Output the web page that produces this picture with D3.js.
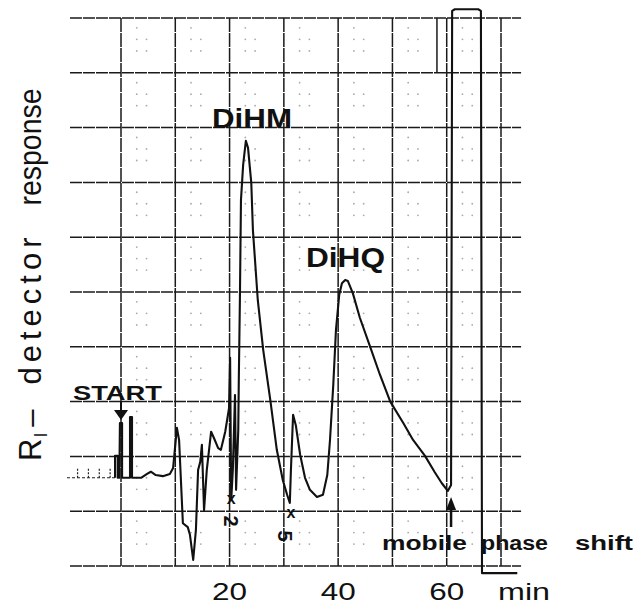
<!DOCTYPE html>
<html>
<head>
<meta charset="utf-8">
<script src="https://cdn.jsdelivr.net/npm/d3@7"></script>
<style>
body{margin:0;background:#fff;}
svg text{font-family:"Liberation Sans",Arial,Helvetica,sans-serif;fill:#111;}
</style>
</head>
<body>
<svg width="635" height="606"></svg>
<script>
(()=>{

//chart grid: minutes and detector divisions
const gridTimes = [0,10,20,30,40,50,60,70];
const gridLevels = [0,1,2,3,4,5,6,7,8,9,10];
const tickValues = [20,40,60];
const tickLabels = ["20","40","60"];
const unitLabel = "min";

//recorder trace: time (min) and response (divisions)
const traceTime = [-1.1,-1.1,-0.6,-0.6,-0.3,-0.2,0.2,0.2,1.66,1.66,2.03,2.03,3.7,4.8,5.5,6.4,7.7,9.0,9.6,10.3,10.7,11.4,12.3,12.7,13.3,13.8,14.2,14.6,14.9,15.3,15.8,16.6,17.1,17.9,18.4,19.2,19.9,20.1,20.3,20.6,21.0,21.2,21.6,21.7,21.9,22.1,22.5,23.0,23.4,24.0,24.3,25.2,26.2,27.5,28.7,29.8,30.6,31.1,31.3,31.7,32.2,33.0,33.9,34.8,36.1,37.2,38.0,38.5,39.1,39.6,40.2,40.7,41.3,41.8,42.7,44.0,45.9,47.7,49.6,52.0,53.8,56.0,57.8,59.1,60.2,60.8,61.0,61.5,65.8,66.3,66.5,73.0];
const traceResp = [1.61,2.01,2.01,1.61,1.61,2.61,2.61,1.61,1.61,2.72,2.72,1.61,1.61,1.68,1.72,1.66,1.64,1.68,1.79,2.52,2.30,0.78,0.71,0.57,0.11,0.66,1.75,1.90,2.21,1.02,1.75,2.45,2.34,2.15,2.12,2.45,2.88,3.80,1.20,1.75,3.12,1.39,2.48,3.39,4.85,6.68,7.32,7.76,7.63,6.99,6.13,4.85,3.94,3.03,2.12,1.57,1.30,1.15,1.75,2.76,2.57,2.03,1.61,1.39,1.26,1.30,1.66,2.30,3.30,4.31,4.95,5.16,5.22,5.20,4.98,4.53,4.00,3.49,3.00,2.61,2.30,2.01,1.71,1.51,1.37,1.48,10.13,10.16,10.16,10.13,-0.13,-0.13];

//annotations
const peakNames = ["DiHM","DiHQ"];
const gainNotes = ["2","5"];

let svg = d3.select("svg");

let x = d3.scaleLinear().domain([0,70]).range([121,501]);
let y = d3.scaleLinear().domain([0,10]).range([566,18]);
let xLeft = -9.4, xRight = 73.7;

//wide lettering: text squeezed/stretched into a measured length
function label(txt, px, py, size, len, bold, anchor){
	return svg.append("text")
		.attr("x", px).attr("y", py)
		.attr("font-size", size)
		.attr("font-weight", bold ? "bold" : "normal")
		.attr("text-anchor", anchor || "start")
		.attr("textLength", len)
		.attr("lengthAdjust", "spacingAndGlyphs")
		.text(txt);
}

//faint printed dots inside cells
let dots = [];
const dotPattern = [[0.29,0.18],[0.29,0.39],[0.47,0.39],[0.29,0.6],[0.47,0.6]];
gridTimes.slice(0,-1).forEach(t=>{
	gridLevels.slice(1).forEach(v=>{
		dotPattern.forEach(p=>dots.push({t:t+p[0]*10, v:v-p[1]}));
	});
});
svg.selectAll(".dot")
	.data(dots)
	.enter().append("circle")
	.attr("class","dot")
	.attr("cx", d => x(d.t))
	.attr("cy", d => y(d.v))
	.attr("r", 0.9)
	.attr("fill", "#aaa");

//grid
svg.selectAll(".hline")
	.data(gridLevels)
	.enter().append("line")
	.attr("class","hline")
	.attr("x1", x(xLeft))
	.attr("x2", x(xRight))
	.attr("y1", d => y(d))
	.attr("y2", d => y(d))
	.attr("stroke", "#1a1a1a")
	.attr("stroke-width", 1.5)
	.attr("stroke-dasharray", "12,1");

svg.selectAll(".vline")
	.data(gridTimes)
	.enter().append("line")
	.attr("class","vline")
	.attr("x1", d => x(d))
	.attr("x2", d => x(d))
	.attr("y1", y(10))
	.attr("y2", y(0))
	.attr("stroke", "#1a1a1a")
	.attr("stroke-width", 1.5)
	.attr("stroke-dasharray", "14,1");

//short pen mark in top row
svg.append("line")
	.attr("x1", x(58.2)).attr("x2", x(58.2))
	.attr("y1", y(10)).attr("y2", y(9))
	.attr("stroke", "#1a1a1a").attr("stroke-width", 1.5);

//dotted baseline before start
svg.append("line")
	.attr("x1", 67).attr("x2", x(-1.1))
	.attr("y1", y(1.61)).attr("y2", y(1.61))
	.attr("stroke", "#222").attr("stroke-width", 1.2)
	.attr("stroke-dasharray", "3,2");
svg.selectAll(".tick-mark")
	.data([-8,-6,-4,-2])
	.enter().append("line")
	.attr("class","tick-mark")
	.attr("x1", d => x(d)).attr("x2", d => x(d))
	.attr("y1", y(1.61)).attr("y2", y(1.8))
	.attr("stroke", "#222").attr("stroke-width", 1.2)
	.attr("stroke-dasharray", "2,1.5");

//trace
let line = d3.line()
	.x(d => x(d[0]))
	.y(d => y(d[1]))
	.curve(d3.curveLinear);
svg.append("path")
	.datum(d3.zip(traceTime, traceResp))
	.attr("d", line)
	.attr("fill", "none")
	.attr("stroke", "#111")
	.attr("stroke-width", 2.1)
	.attr("stroke-linejoin", "round");

//peak labels
label(peakNames[0], 212, 128, 28, 80, true);
label(peakNames[1], 306, 267, 28, 79, true);

//start marker
label("START", 73, 400, 21, 89, true);
svg.append("line")
	.attr("x1", x(0)).attr("x2", x(0))
	.attr("y1", 401).attr("y2", 412)
	.attr("stroke", "#111").attr("stroke-width", 2);
svg.append("path")
	.attr("d", `M${x(0)-7},410 L${x(0)+7},410 L${x(0)},420 Z`)
	.attr("fill", "#111");

//mobile phase shift marker
let xs = x(60.8);
svg.append("line")
	.attr("x1", xs).attr("x2", xs)
	.attr("y1", 506).attr("y2", 527)
	.attr("stroke", "#111").attr("stroke-width", 2.5);
svg.append("path")
	.attr("d", `M${xs-5},510 L${xs+5},510 L${xs},497 Z`)
	.attr("fill", "#111");
label("mobile", 382, 550, 20, 85, true);
label("phase", 481, 550, 20, 67, true);
label("shift", 575, 550, 20, 58, true);

//attenuation notes
[[20.3,504,521],[31.3,518,536]].forEach((p,i)=>{
	svg.append("text")
		.attr("x", x(p[0])).attr("y", p[1])
		.attr("text-anchor", "middle")
		.attr("font-size", 16).attr("font-weight", "bold")
		.text("x");
	svg.append("text")
		.attr("transform", `translate(${x(p[0])-(i?6:0)},${p[2]}) rotate(90)`)
		.attr("text-anchor", "middle")
		.attr("dy", "0.35em")
		.attr("font-size", 20).attr("font-weight", "bold")
		.text(gainNotes[i]);
});

//x tick labels
tickValues.forEach((v,i)=>label(tickLabels[i], x(v), 600, 24, 35, false, "middle"));
label(unitLabel, 498, 600, 24, 52, false);

//y axis label, rotated
let ylab = [
	{t:"response", c:147, len:117, adj:"spacingAndGlyphs"},
	{t:"detector", c:311, len:147, adj:"spacing"}
];
ylab.forEach(d=>{
	svg.append("text")
		.attr("transform", `translate(41,${d.c}) rotate(-90)`)
		.attr("text-anchor", "middle")
		.attr("font-size", 31)
		.attr("textLength", d.len)
		.attr("lengthAdjust", d.adj)
		.text(d.t);
});
svg.append("text")
	.attr("transform", "translate(41,418) rotate(-90)")
	.attr("text-anchor", "middle")
	.attr("font-size", 31)
	.text("–");
let rl = svg.append("text")
	.attr("transform", "translate(41,461) rotate(-90)")
	.attr("font-size", 31);
rl.append("tspan").text("R");
rl.append("tspan").attr("font-size", 18).attr("dy", 6).attr("dx", 1).text("I");

})();
</script>
</body>
</html>
